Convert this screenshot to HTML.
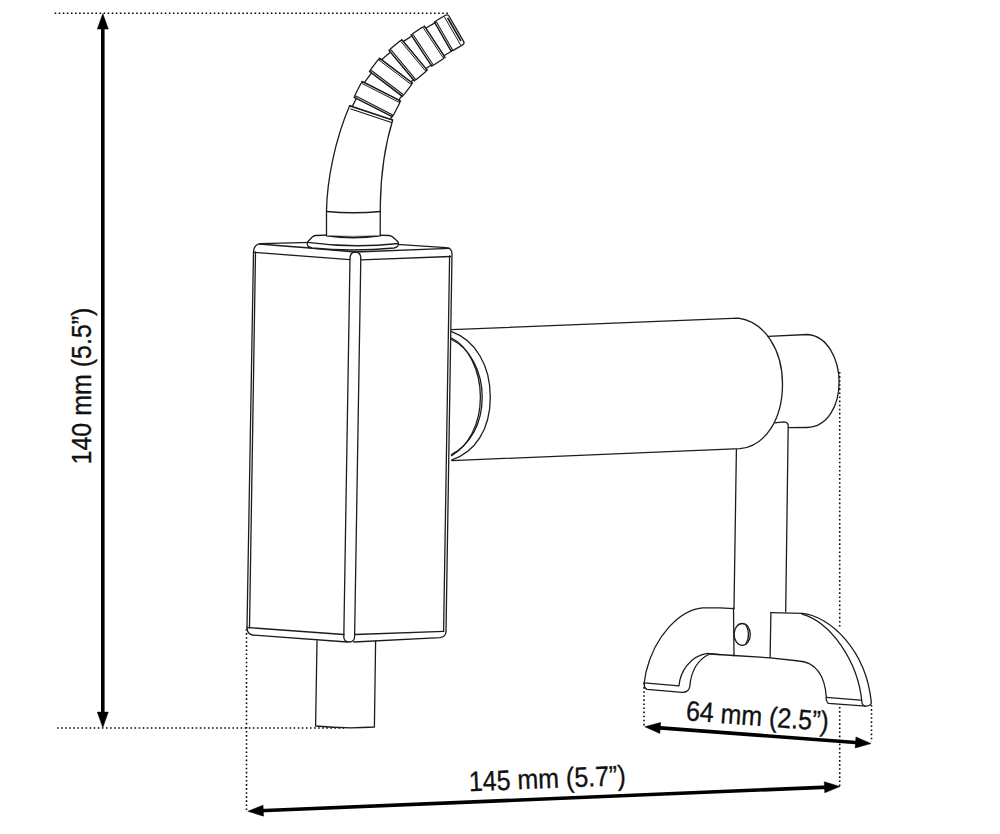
<!DOCTYPE html>
<html><head><meta charset="utf-8">
<style>
html,body{margin:0;padding:0;background:#fff;}
svg{display:block;}
</style></head>
<body>
<svg width="1000" height="834" viewBox="0 0 1000 834">
<g fill="none" stroke="#1c1c1c" stroke-width="1.3" stroke-linecap="round" stroke-linejoin="round">

<!-- dotted extension lines -->
<g stroke="#0a0a0a" stroke-width="1.6" stroke-dasharray="1.6 2.48" stroke-linecap="butt">
  <path d="M54.6 13.3 H449"/>
  <path d="M57 728 H344"/>
  <path d="M246.5 629 V811"/>
  <path d="M839.7 372 V627"/>
  <path d="M839.7 707 V787"/>
  <path d="M871.5 705 V742"/>
  <path d="M644 683 V726"/>
</g>

<!-- ===== BOX ===== -->
<path d="M253.5 252 Q254 244 261 243.7 L352 241.3 L446 247.6 Q452 248 452 254 L446 632 Q445.5 637 440 637.6 L353.8 642"/>
<path d="M255.5 252 L249.5 628"/>
<path d="M253.5 252 L247 627.5 Q247 634 252.5 635 L347.5 642"/>
<path d="M449.6 256 L443.6 631.3"/>
<path d="M259.5 244 Q300 247 355 252 L449.6 248.4"/>
<path d="M254.3 252.4 L349.8 259.6"/>
<path d="M360.8 259.8 L450.8 256.5"/>
<path d="M247 627.5 L344 634.5"/>
<path d="M355 634.5 L443.8 631.3"/>
<!-- center rounded vertical edge -->
<path d="M350 258 Q350.5 252 355.3 252 Q360.5 252 360.8 258 L354.6 637 Q354.3 642 349.3 642 Q344 642 343.8 637 Z"/>

<!-- bottom cylinder -->
<path d="M317 641 L315.6 726 Q345 729 374.4 727 L375.6 641"/>

<!-- ===== WASHER & TUBE ===== -->
<path d="M315.5 235.5 Q352 233.8 389 235.5 Q391.5 235.8 393 237.2 L398 241.8 Q399.8 247 394 248 Q352 252 312 248 Q306 247 307.5 242 L312.5 236.8 Q313.8 235.7 315.5 235.5 Z" fill="#fff"/>
<path d="M307.5 242.4 Q352 248.5 398.5 243.5"/>
<path d="M326.6 235.5 Q353 239.5 380.2 235.5" stroke-width="2"/>
<path d="M326.5 235.5 L326.5 211 C327 180 335 140 349.6 105.8 L392.7 120.1 C385 145 380.8 175 380.3 205 L380.2 235.5" fill="#fff"/>
<path d="M326.7 211.5 Q353 214 380.5 211.5"/>
<path d="M351 109 L391.5 122.5"/>

<!-- ===== HORIZONTAL CYLINDER ===== -->
<path d="M451.5 329.6 L738.4 318.2 C765 322 782.5 350 782.5 384 C782.5 420 765 446 740 448.7 L452 460.6"/>
<path d="M451.5 331.7 C475 340 490.3 365 490.3 397 C490.3 430 475 452 451.5 460.1"/>
<path d="M451.5 338 C468 346 480.4 370 480.4 397 C480.4 425 468 446 451.5 455.6"/>
<path d="M451.5 339.5 C470 348 482.2 372 482.2 397 C482.2 424 470 445 451.5 454.5"/>
<!-- small end cylinder -->
<path d="M768 336.4 L807.4 334.5 C828 336 839.1 360 839.1 382 C839.1 405 828 427 807 427.5 L788.5 427.6"/>

<!-- ===== POST & BRACKET ===== -->
<path d="M736.4 449.6 L734 608.7"/>
<path d="M774.8 422.8 L784 421.8 Q788.2 422 788.2 426 L785.7 611.8"/>
<!-- left arm -->
<path d="M734 608.7 L720 607.8 L702.4 607.8 C680 610 655 635 646 672 L644.2 682.8 Q644 688.5 647.2 689.4 L682 692.4 Q689 692.5 689.8 686.4 C691 672 697 660 709.6 654 L734 655.5"/>
<path d="M644.2 682.8 L679 685.8 C680 672 690 656 707.2 653.4 L720 654.6"/>
<path d="M734 655.5 L733.5 608"/>
<ellipse cx="742.2" cy="634.4" rx="8.1" ry="10.9"/>
<path d="M746 625 Q751 634.4 746 644"/>
<!-- right arm -->
<path d="M770.9 612.6 L802.1 613.4 C830 616 866 650 871.3 702.1 Q871.5 706 866 706.1 L828.3 703.4 Q825.6 701 826.3 697.4 C825 675 815 662 799 661 L770.1 657.8 L733.5 655.5"/>
<path d="M770.9 612.6 L770.1 657.8"/>
<path d="M802.1 614.1 C830 622 858 660 861.9 702.1 Q862 705.5 865.2 706.1"/>
<path d="M826.3 697.4 L860.5 700.1"/>

<!-- ===== CORRUGATED NOZZLE ===== -->
<path d="M349.80 105.60 Q352.12 106.78 352.57 105.89 L355.96 99.23 Q356.33 98.52 353.97 97.09 L392.64 116.79 Q391.73 116.56 391.46 117.09 L390.90 118.19 Q390.54 118.90 392.50 119.90 Z" fill="#fff"/>
<path d="M361.96 81.41 Q364.03 82.98 364.64 82.18 L371.06 73.72 Q371.54 73.09 369.40 71.22 L402.62 96.43 Q401.74 96.01 401.38 96.49 L399.36 99.14 Q398.88 99.78 400.63 101.11 Z" fill="#fff"/>
<path d="M379.38 58.07 Q381.05 60.07 381.82 59.43 L389.74 52.80 Q390.36 52.28 388.87 50.19 L414.59 80.96 Q413.35 79.78 412.89 80.17 L411.80 81.08 Q411.18 81.60 412.60 83.28 Z" fill="#fff"/>
<path d="M401.61 39.54 Q403.04 41.71 403.88 41.16 L411.03 36.43 Q411.69 35.99 411.08 34.70 L431.94 66.22 Q431.04 65.21 430.54 65.55 L426.78 68.03 Q426.11 68.47 427.33 70.31 Z" fill="#fff"/>
<path d="M424.26 25.98 Q425.56 28.23 426.42 27.73 L434.03 23.34 Q434.73 22.94 434.30 21.79 L451.40 51.41 Q451.19 51.45 450.67 51.75 L444.71 55.19 Q444.02 55.59 445.12 57.50 Z" fill="#fff"/>
<path d="M360.78 83.72 Q361.96 81.41 364.28 82.59 L398.31 99.93 Q400.63 101.11 399.45 103.43 L393.82 114.48 Q392.64 116.79 390.32 115.61 L356.29 98.27 Q353.97 97.09 355.15 94.77 Z" fill="#fff"/>
<path d="M355.86 96.03 L392.39 114.64" stroke-width="1.1"/>
<path d="M362.21 83.56 L398.74 102.17" stroke-width="1"/>
<path d="M377.81 60.14 Q379.38 58.07 381.45 59.64 L410.52 81.71 Q412.60 83.28 411.02 85.36 L404.19 94.36 Q402.62 96.43 400.55 94.86 L371.48 72.79 Q369.40 71.22 370.98 69.14 Z" fill="#fff"/>
<path d="M371.45 70.51 L402.75 94.27" stroke-width="1.1"/>
<path d="M379.25 60.23 L410.55 83.99" stroke-width="1"/>
<path d="M399.61 41.21 Q401.61 39.54 403.27 41.54 L425.66 68.31 Q427.33 70.31 425.33 71.98 L416.59 79.29 Q414.59 80.96 412.93 78.96 L390.54 52.19 Q388.87 50.19 390.87 48.52 Z" fill="#fff"/>
<path d="M391.02 49.96 L415.20 78.88" stroke-width="1.1"/>
<path d="M401.00 41.62 L425.18 70.54" stroke-width="1"/>
<path d="M422.09 27.41 Q424.26 25.98 425.69 28.15 L443.68 55.33 Q445.12 57.50 442.95 58.94 L434.11 64.79 Q431.94 66.22 430.51 64.05 L412.52 36.87 Q411.08 34.70 413.25 33.26 Z" fill="#fff"/>
<path d="M413.24 34.71 L432.78 64.23" stroke-width="1.1"/>
<path d="M423.42 27.97 L442.96 57.49" stroke-width="1"/>
<path d="M445.55 15.29 Q447.80 13.99 449.10 16.24 L463.60 41.36 Q464.90 43.61 462.65 44.91 L453.65 50.11 Q451.40 51.41 450.10 49.16 L435.60 24.04 Q434.30 21.79 436.55 20.49 Z" fill="#fff"/>
<path d="M436.45 21.93 L452.35 49.47" stroke-width="1.1"/>
<path d="M444.59 17.23 L460.49 44.77" stroke-width="1"/>
<path d="M447.99 18.51 L460.59 40.33" stroke-width="1.7"/>

</g>

<!-- ===== DIMENSION ARROWS ===== -->
<g stroke="#000" stroke-width="3.6" fill="none">
<path d="M102.80 25.60 L102.80 715.60"/>
<path d="M259.79 810.80 L828.01 787.10"/>
<path d="M656.72 727.64 L859.03 742.71"/>
</g><g fill="#000" stroke="#000" stroke-width="0.5" stroke-linejoin="miter">
<path d="M102.80 13.60 L97.30 29.10 L108.30 29.10 Z"/>
<path d="M102.80 727.60 L108.30 712.10 L97.30 712.10 Z"/>
<path d="M247.80 811.30 L263.52 816.15 L263.06 805.16 Z"/>
<path d="M840.00 786.60 L824.28 781.75 L824.74 792.74 Z"/>
<path d="M644.75 726.75 L659.80 733.39 L660.62 722.42 Z"/>
<path d="M871.00 743.60 L855.95 736.96 L855.13 747.93 Z"/>
</g>


<!-- ===== TEXT ===== -->
<g font-family="Liberation Sans, sans-serif" font-size="28" fill="#111" stroke="#111" stroke-width="0.35">
  <text transform="translate(90.8 464.5) rotate(-90) scale(0.893 1)">140 mm (5.5”)</text>
  <text transform="translate(469.2 791.3) rotate(-2.34) scale(0.893 1)">145 mm (5.7”)</text>
  <text transform="translate(685.4 720.3) rotate(4.3) scale(0.893 1)">64 mm (2.5”)</text>
</g>
</svg>
</body></html>
